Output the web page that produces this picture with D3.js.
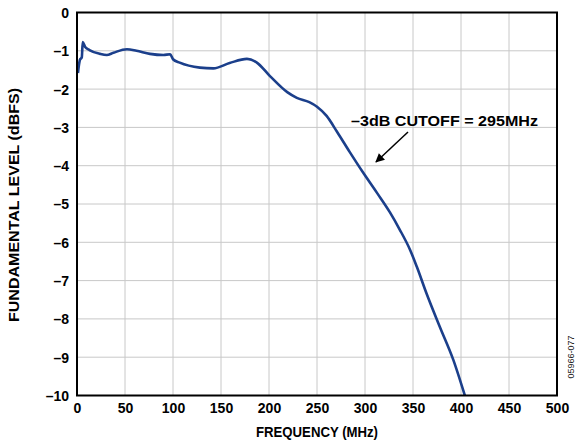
<!DOCTYPE html>
<html><head><meta charset="utf-8">
<script src="https://cdn.jsdelivr.net/npm/d3@7"></script>
<style>body{margin:0;background:#fff}svg{display:block}text{font-family:"Liberation Sans",Arial,sans-serif}</style>
</head><body>
<svg id="c" width="582" height="448"></svg>
<script>
const freq = [1,3,5,6,8.5,13,24,31,38,52,62,76,90,97,100,107,128,142,159,177,187,201,219,229,242,250,260,271,284,298,312.5,326,336,347,354,364,378,392,404];
const level = [-1.58,-1.24,-1.17,-0.77,-0.9,-0.98,-1.08,-1.11,-1.05,-0.96,-1.0,-1.08,-1.11,-1.09,-1.22,-1.31,-1.44,-1.46,-1.32,-1.21,-1.3,-1.66,-2.08,-2.23,-2.34,-2.46,-2.7,-3.12,-3.64,-4.18,-4.71,-5.22,-5.66,-6.2,-6.64,-7.33,-8.21,-9.07,-10.0];
const xTicks = [0,50,100,150,200,250,300,350,400,450,500];
const yTicks = [0,-1,-2,-3,-4,-5,-6,-7,-8,-9,-10];
const annotation = "\u20133dB CUTOFF = 295MHz";
const code = "05966-077";

const svg = d3.select("#c");
const L=77,R=557,T=12.5,B=395.5;
const x = d3.scaleLinear().domain([0,500]).range([L,R]);
const y = d3.scaleLinear().domain([0,-10]).range([T,B]);
const fmt = v => v<0 ? "\u2013"+Math.abs(v) : String(v);

// grid
svg.append("g").selectAll("line").data(xTicks.slice(1,-1)).join("line")
  .attr("x1",d=>x(d)).attr("x2",d=>x(d)).attr("y1",T).attr("y2",B)
  .attr("stroke","#c8c8c8").attr("stroke-width",1);
svg.append("g").selectAll("line").data(yTicks.slice(1,-1)).join("line")
  .attr("y1",d=>y(d)).attr("y2",d=>y(d)).attr("x1",L).attr("x2",R)
  .attr("stroke","#c8c8c8").attr("stroke-width",1);

// axes labels via d3 axes
const xa = svg.append("g").attr("transform",`translate(0,${B})`)
  .call(d3.axisBottom(x).tickValues(xTicks).tickSize(0).tickPadding(8).tickFormat(fmt));
const ya = svg.append("g").attr("transform",`translate(${L},0)`)
  .call(d3.axisLeft(y).tickValues(yTicks).tickSize(0).tickPadding(8).tickFormat(fmt));
[xa,ya].forEach(a=>{a.select(".domain").remove();
  a.selectAll("text").attr("font-family","Liberation Sans, Arial, sans-serif").attr("font-size",14).attr("font-weight","bold").attr("fill","#000");});
ya.selectAll("text").attr("dy","0.35em");

// line
svg.append("path").datum(freq.map((f,i)=>[f,level[i]]))
  .attr("d",d3.line().x(d=>x(d[0])).y(d=>y(d[1])).curve(d3.curveMonotoneX))
  .attr("fill","none").attr("stroke","#1b3f8b").attr("stroke-width",2.6).attr("stroke-linejoin","round");

// frame
svg.append("rect").attr("x",L).attr("y",T).attr("width",R-L).attr("height",B-T)
  .attr("fill","none").attr("stroke","#000").attr("stroke-width",2);

// titles
svg.append("text").attr("x",317).attr("y",437).attr("text-anchor","middle")
  .attr("font-size",14).attr("font-weight","bold").attr("textLength",122).attr("lengthAdjust","spacingAndGlyphs").text("FREQUENCY (MHz)");
svg.append("text").attr("transform","translate(19,205) rotate(-90)").attr("text-anchor","middle")
  .attr("font-size",14).attr("font-weight","bold").attr("textLength",234).attr("lengthAdjust","spacingAndGlyphs").text("FUNDAMENTAL LEVEL (dBFS)");

// annotation
svg.append("text").attr("x",351).attr("y",126).attr("font-size",14).attr("font-weight","bold")
  .attr("textLength",187).attr("lengthAdjust","spacingAndGlyphs").text(annotation);
svg.append("defs").append("marker").attr("id","ah").attr("viewBox","0 0 10 10").attr("refX",9).attr("refY",5)
  .attr("markerWidth",10).attr("markerHeight",9).attr("markerUnits","userSpaceOnUse").attr("orient","auto")
  .append("path").attr("d","M0,0L10,5L0,10Z").attr("fill","#000");
svg.append("line").attr("x1",408).attr("y1",132).attr("x2",376).attr("y2",162)
  .attr("stroke","#000").attr("stroke-width",1.5).attr("marker-end","url(#ah)");

// code
svg.append("text").attr("transform","translate(574,357) rotate(-90)").attr("text-anchor","middle")
  .attr("font-size",9).attr("fill","#222").text(code);
</script>
</body></html>
